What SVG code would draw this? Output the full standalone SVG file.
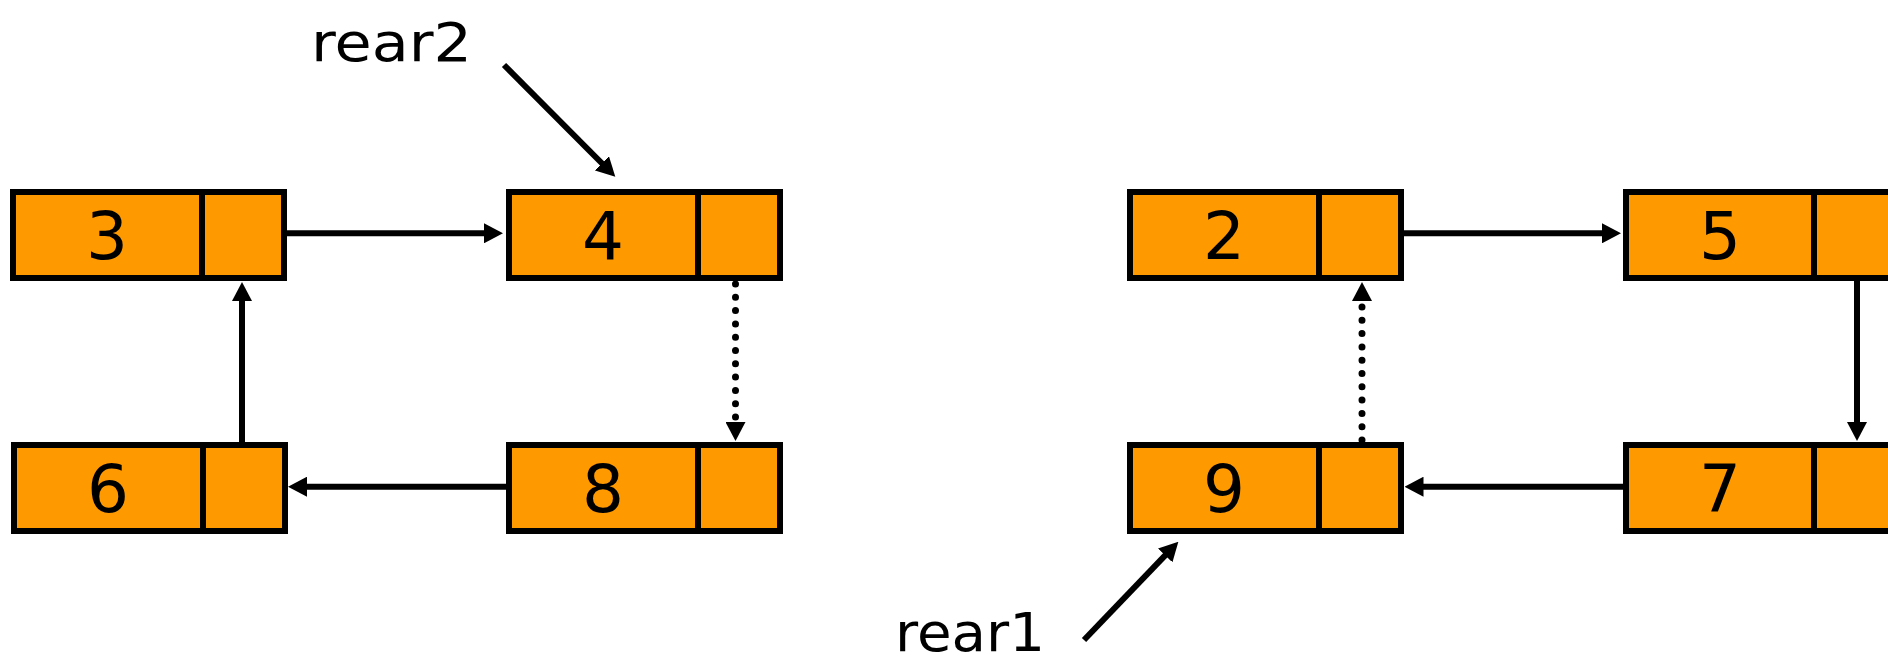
<svg xmlns="http://www.w3.org/2000/svg" width="1888" height="666" viewBox="0 0 1888 666">
  <style>
    .box { fill: #FF9900; stroke: #000; stroke-width: 6; }
    .div { stroke: #000; stroke-width: 6; }
    .val { font-family: "DejaVu Sans", "Liberation Sans", sans-serif; font-size: 66px; fill: #000; text-anchor: middle; }
    .lbl { font-family: "DejaVu Sans", "Liberation Sans", sans-serif; font-size: 54px; fill: #000; }
    .link { fill: none; stroke: #000; stroke-width: 6; marker-end: url(#ah); }
    .dot { fill: none; stroke: #000; stroke-width: 7; stroke-linecap: round; stroke-dasharray: 0 13.3; marker-end: url(#ah); }
  </style>
  <defs>
    <!-- solid triangular arrowhead; the path ends at the base of the triangle -->
    <marker id="ah" viewBox="0 0 19 20" refX="1" refY="10" markerWidth="19" markerHeight="20" markerUnits="userSpaceOnUse" orient="auto">
      <path d="M0,0 L19,10 L0,20 z" fill="#000"/>
    </marker>
  </defs>

  <rect width="1888" height="666" fill="#fff"/>

  <!-- list nodes: value cell + pointer cell -->
  <g id="node-3">
    <rect class="box" x="13" y="192" width="271" height="86"/>
    <line class="div" x1="202" y1="189" x2="202" y2="281"/>
    <text class="val" x="107" y="259">3</text>
  </g>
  <g id="node-4">
    <rect class="box" x="509" y="192" width="271" height="86"/>
    <line class="div" x1="698" y1="189" x2="698" y2="281"/>
    <text class="val" x="603" y="259">4</text>
  </g>
  <g id="node-6">
    <rect class="box" x="14" y="445" width="271" height="86"/>
    <line class="div" x1="203" y1="442" x2="203" y2="534"/>
    <text class="val" x="108" y="512">6</text>
  </g>
  <g id="node-8">
    <rect class="box" x="509" y="445" width="271" height="86"/>
    <line class="div" x1="698" y1="442" x2="698" y2="534"/>
    <text class="val" x="603" y="512">8</text>
  </g>
  <g id="node-2">
    <rect class="box" x="1130" y="192" width="271" height="86"/>
    <line class="div" x1="1319" y1="189" x2="1319" y2="281"/>
    <text class="val" x="1224" y="259">2</text>
  </g>
  <g id="node-5">
    <rect class="box" x="1626" y="192" width="271" height="86"/>
    <line class="div" x1="1814" y1="189" x2="1814" y2="281"/>
    <text class="val" x="1720" y="259">5</text>
  </g>
  <g id="node-9">
    <rect class="box" x="1130" y="445" width="271" height="86"/>
    <line class="div" x1="1319" y1="442" x2="1319" y2="534"/>
    <text class="val" x="1224" y="512">9</text>
  </g>
  <g id="node-7">
    <rect class="box" x="1626" y="445" width="271" height="86"/>
    <line class="div" x1="1814" y1="442" x2="1814" y2="534"/>
    <text class="val" x="1720" y="512">7</text>
  </g>

  <!-- pointer labels -->
  <g id="label-rear2">
    <text class="lbl" x="311" y="61" textLength="161" lengthAdjust="spacingAndGlyphs">rear2</text>
  </g>
  <g id="label-rear1">
    <text class="lbl" x="895" y="651" textLength="150" lengthAdjust="spacingAndGlyphs">rear1</text>
  </g>

  <!-- links -->
  <g id="connectors">
    <path class="link" d="M287,233.3 H485"/>
    <path class="link" d="M242,442 V300"/>
    <path class="link" d="M506,486.7 H306"/>
    <path class="dot" d="M735.5,284 V423"/>
    <path class="link" d="M1403,233.3 H1603"/>
    <path class="link" d="M1857,281 V423"/>
    <path class="link" d="M1623,486.7 H1422.5"/>
    <path class="dot" d="M1362,440 V300"/>
    <path class="link" d="M504,65 L602.6,164"/>
    <path class="link" d="M1084,640 L1165.9,554.7"/>
  </g>
</svg>
